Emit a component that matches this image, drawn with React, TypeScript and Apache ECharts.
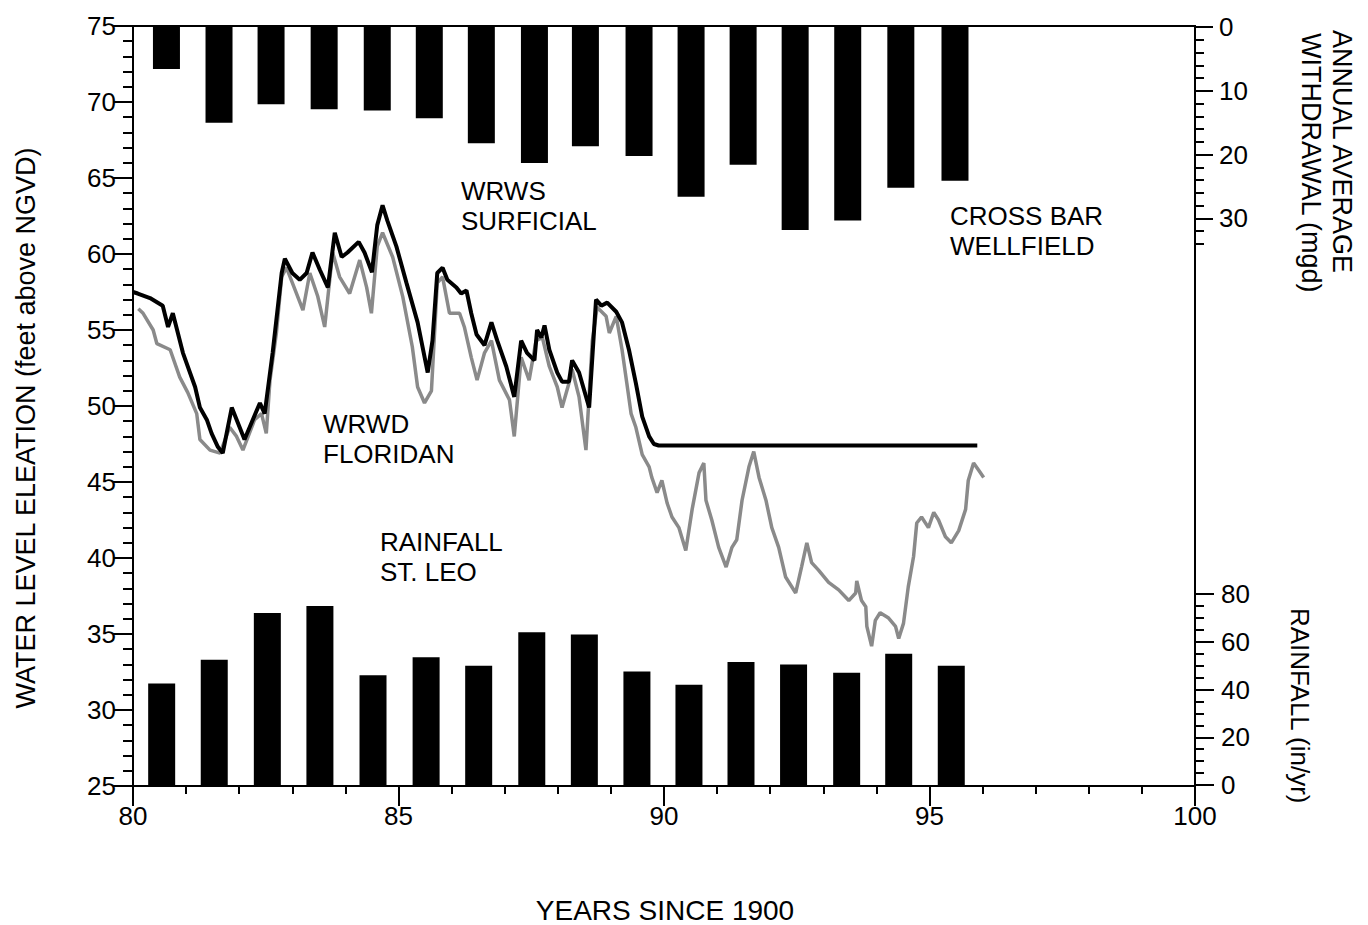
import React, { useEffect, useRef } from "react";
import * as echarts from "echarts";

// ---- DATA ----
const withdrawalYears = [80.63, 81.62, 82.6, 83.6, 84.6, 85.58, 86.56, 87.56, 88.52, 89.53, 90.51, 91.49, 92.47, 93.46, 94.46, 95.48];
const withdrawalMgd = [6.6, 15.0, 12.1, 12.9, 13.1, 14.3, 18.2, 21.3, 18.7, 20.2, 26.6, 21.6, 31.8, 30.3, 25.2, 24.1];

const rainfallYears = [80.54, 81.53, 82.53, 83.52, 84.52, 85.52, 86.51, 87.51, 88.5, 89.49, 90.47, 91.45, 92.44, 93.44, 94.42, 95.41];
const rainfallInches = [42.5, 52.5, 72, 75, 46, 53.5, 50, 64, 63, 47.5, 42, 51.5, 50.5, 47, 55, 50];

const surficialYears = [80.0, 80.09, 80.32, 80.56, 80.66, 80.75, 80.94, 81.17, 81.26, 81.39, 81.48, 81.6, 81.69, 81.78, 81.86, 82.1, 82.39, 82.48, 82.63, 82.8, 82.86, 83.0, 83.14, 83.27, 83.38, 83.52, 83.67, 83.8, 83.93, 84.04, 84.25, 84.36, 84.5, 84.6, 84.7, 84.79, 84.96, 85.15, 85.36, 85.55, 85.64, 85.73, 85.83, 85.92, 86.09, 86.18, 86.28, 86.37, 86.47, 86.62, 86.75, 86.86, 87.03, 87.18, 87.31, 87.42, 87.56, 87.61, 87.69, 87.75, 87.84, 87.99, 88.08, 88.21, 88.27, 88.4, 88.59, 88.72, 88.82, 88.93, 89.1, 89.21, 89.34, 89.47, 89.59, 89.72, 89.81, 89.9, 95.9];
const surficialLevels = [57.5, 57.4, 57.1, 56.6, 55.2, 56.1, 53.5, 51.25, 49.9, 49.1, 48.2, 47.3, 46.9, 48.5, 49.9, 47.8, 50.2, 49.5, 53.5, 58.75, 59.7, 58.75, 58.3, 58.75, 60.1, 58.95, 57.8, 61.4, 59.8, 60.1, 60.8, 60.1, 58.8, 61.9, 63.2, 62.2, 60.5, 58.1, 55.5, 52.2, 54.3, 58.75, 59.1, 58.3, 57.8, 57.4, 57.6, 56.1, 54.7, 54.0, 55.5, 54.3, 52.6, 50.6, 54.3, 53.5, 53.0, 55.0, 54.5, 55.3, 53.7, 52.2, 51.6, 51.6, 53.0, 52.2, 49.9, 57.0, 56.6, 56.8, 56.2, 55.5, 53.7, 51.5, 49.3, 48.0, 47.5, 47.4, 47.4];

const floridanYears = [80.1, 80.19, 80.38, 80.45, 80.7, 80.88, 81.03, 81.2, 81.26, 81.45, 81.64, 81.82, 81.95, 82.07, 82.29, 82.42, 82.51, 82.58, 82.7, 82.8, 82.89, 83.08, 83.2, 83.33, 83.48, 83.61, 83.76, 83.89, 84.08, 84.27, 84.4, 84.49, 84.6, 84.7, 84.89, 85.08, 85.26, 85.36, 85.49, 85.62, 85.73, 85.83, 85.96, 86.15, 86.24, 86.37, 86.48, 86.62, 86.75, 86.9, 87.09, 87.18, 87.31, 87.46, 87.59, 87.71, 87.84, 87.99, 88.08, 88.21, 88.27, 88.4, 88.53, 88.65, 88.74, 88.91, 88.97, 89.1, 89.21, 89.3, 89.38, 89.47, 89.59, 89.72, 89.77, 89.87, 89.96, 90.06, 90.15, 90.28, 90.41, 90.53, 90.66, 90.75, 90.79, 90.9, 91.03, 91.17, 91.28, 91.37, 91.47, 91.6, 91.69, 91.79, 91.92, 92.03, 92.16, 92.29, 92.48, 92.59, 92.69, 92.78, 92.91, 93.1, 93.29, 93.48, 93.61, 93.63, 93.72, 93.8, 93.82, 93.91, 93.98, 94.07, 94.23, 94.36, 94.42, 94.51, 94.6, 94.7, 94.76, 94.85, 94.98, 95.08, 95.17, 95.3, 95.41, 95.55, 95.68, 95.73, 95.83, 95.92, 96.02];
const floridanLevels = [56.4, 56.1, 55.0, 54.1, 53.7, 51.9, 50.9, 49.5, 47.8, 47.1, 46.9, 48.6, 48.0, 47.1, 49.1, 49.5, 48.2, 51.7, 54.8, 58.5, 59.1, 57.4, 56.3, 58.75, 57.2, 55.2, 60.1, 58.5, 57.4, 59.6, 57.8, 56.1, 60.5, 61.4, 59.8, 57.2, 53.9, 51.25, 50.2, 51.0, 58.1, 58.5, 56.1, 56.1, 55.2, 53.2, 51.7, 53.5, 54.3, 51.7, 50.4, 48.0, 53.2, 51.7, 54.3, 54.5, 52.6, 51.25, 49.9, 51.5, 52.4, 50.6, 47.1, 54.3, 56.5, 55.9, 54.8, 55.9, 53.7, 51.5, 49.5, 48.6, 46.8, 46.0, 45.3, 44.3, 45.1, 43.6, 42.7, 42.0, 40.5, 43.2, 45.6, 46.25, 43.8, 42.5, 40.7, 39.4, 40.7, 41.2, 43.8, 46.0, 47.0, 45.3, 43.8, 42.0, 40.7, 38.75, 37.7, 39.4, 41.0, 39.7, 39.2, 38.4, 37.9, 37.2, 37.7, 38.5, 37.2, 36.8, 35.5, 34.2, 35.9, 36.4, 36.05, 35.5, 34.7, 35.7, 38.1, 40.1, 42.3, 42.7, 42.0, 43.0, 42.5, 41.4, 41.0, 41.8, 43.2, 45.1, 46.25, 45.8, 45.3];

const withdrawalMajorTicks = [0, 10, 20, 30];
const withdrawalMinorTicks = [0, 2, 4, 6, 8, 10, 12, 14, 16, 18, 20, 22, 24, 26, 28, 30, 32, 34];

const annotations = [
  { text: "WRWS\nSURFICIAL", x: 461, y: 176 },
  { text: "CROSS BAR\nWELLFIELD", x: 950, y: 201 },
  { text: "WRWD\nFLORIDAN", x: 323, y: 409 },
  { text: "RAINFALL\nST. LEO", x: 380, y: 527 },
];

const FONT = "'Liberation Sans', Arial, Helvetica, sans-serif";

export default function App() {
  const ref = useRef<HTMLDivElement>(null);

  useEffect(() => {
    document.body.style.margin = "0";
    const chart = echarts.init(ref.current!, null, { renderer: "svg" });

    const black = "#000";
    const tickStyle = { color: black, width: 2 };
    const labelBase = { color: black, fontSize: 26, fontFamily: FONT };

    const pairs = (xs: number[], ys: number[]) => xs.map((x, i) => [x, ys[i]]);

    const textStyle = (text: string, size: number, extra: any = {}) => ({
      text,
      fill: black,
      font: `${size}px ${FONT}`,
      fontSize: size,
      fontFamily: FONT,
      ...extra,
    });

    const option: any = {
      animation: false,
      backgroundColor: "#fff",
      grid: [
        { left: 133, top: 26, width: 1062, height: 760, show: true, borderColor: black, borderWidth: 2, backgroundColor: "transparent" },
        { left: 133, top: 27, width: 1062, height: 217 },
        { left: 133, top: 594, width: 1062, height: 191 },
      ],
      xAxis: [
        {
          gridIndex: 0,
          type: "value",
          min: 80,
          max: 100,
          interval: 5,
          axisLine: { show: true, onZero: false, lineStyle: tickStyle },
          axisTick: { show: true, length: 20, lineStyle: tickStyle },
          minorTick: { show: true, splitNumber: 5, length: 8, lineStyle: tickStyle },
          axisLabel: { ...labelBase, margin: 17 },
          splitLine: { show: false },
        },
        { gridIndex: 1, type: "value", min: 80, max: 100, show: false },
        { gridIndex: 2, type: "value", min: 80, max: 100, show: false },
      ],
      yAxis: [
        {
          gridIndex: 0,
          type: "value",
          position: "left",
          min: 25,
          max: 75,
          interval: 5,
          axisLine: { show: true, onZero: false, lineStyle: tickStyle },
          axisTick: { show: true, length: 20, lineStyle: tickStyle },
          minorTick: { show: true, splitNumber: 5, length: 10, lineStyle: tickStyle },
          axisLabel: { ...labelBase, margin: 17 },
          splitLine: { show: false },
        },
        {
          gridIndex: 1,
          type: "value",
          position: "right",
          inverse: true,
          min: 0,
          max: 34,
          axisLine: { show: false },
          axisTick: { show: true, customValues: withdrawalMinorTicks, length: 9, lineStyle: tickStyle },
          axisLabel: { show: false },
          splitLine: { show: false },
        },
        {
          gridIndex: 1,
          type: "value",
          position: "right",
          inverse: true,
          min: 0,
          max: 34,
          axisLine: { show: false },
          axisTick: { show: true, customValues: withdrawalMajorTicks, length: 18, lineStyle: tickStyle },
          axisLabel: { ...labelBase, customValues: withdrawalMajorTicks, margin: 24, hideOverlap: false },
          splitLine: { show: false },
        },
        {
          gridIndex: 2,
          type: "value",
          position: "right",
          min: 0,
          max: 80,
          interval: 20,
          axisLine: { show: false },
          axisTick: { show: true, length: 19, lineStyle: tickStyle },
          minorTick: { show: true, splitNumber: 4, length: 9, lineStyle: tickStyle },
          axisLabel: { ...labelBase, margin: 26 },
          splitLine: { show: false },
        },
      ],
      series: [
        {
          name: "WRWD FLORIDAN",
          type: "line",
          xAxisIndex: 0,
          yAxisIndex: 0,
          data: pairs(floridanYears, floridanLevels),
          showSymbol: false,
          symbol: "none",
          lineStyle: { color: "#8a8a8a", width: 3.5 },
          z: 2,
        },
        {
          name: "WRWS SURFICIAL",
          type: "line",
          xAxisIndex: 0,
          yAxisIndex: 0,
          data: pairs(surficialYears, surficialLevels),
          showSymbol: false,
          symbol: "none",
          lineStyle: { color: black, width: 4 },
          z: 3,
        },
        {
          name: "CROSS BAR WELLFIELD",
          type: "bar",
          xAxisIndex: 1,
          yAxisIndex: 1,
          data: pairs(withdrawalYears, withdrawalMgd),
          barWidth: 27,
          itemStyle: { color: black },
        },
        {
          name: "RAINFALL ST. LEO",
          type: "bar",
          xAxisIndex: 2,
          yAxisIndex: 3,
          data: pairs(rainfallYears, rainfallInches),
          barWidth: 27,
          itemStyle: { color: black },
        },
      ],
      graphic: [
        {
          type: "text",
          x: 26,
          y: 428,
          rotation: Math.PI / 2,
          style: textStyle("WATER LEVEL ELEATION (feet above NGVD)", 27, { align: "center", verticalAlign: "middle", textAlign: "center", textVerticalAlign: "middle" }),
        },
        {
          type: "text",
          x: 665,
          y: 910,
          style: textStyle("YEARS SINCE 1900", 28, { align: "center", verticalAlign: "middle", textAlign: "center", textVerticalAlign: "middle" }),
        },
        {
          type: "text",
          x: 1342,
          y: 30,
          rotation: -Math.PI / 2,
          style: textStyle("ANNUAL AVERAGE", 27, { align: "left", verticalAlign: "middle", textAlign: "left", textVerticalAlign: "middle" }),
        },
        {
          type: "text",
          x: 1311,
          y: 33,
          rotation: -Math.PI / 2,
          style: textStyle("WITHDRAWAL (mgd)", 27, { align: "left", verticalAlign: "middle", textAlign: "left", textVerticalAlign: "middle" }),
        },
        {
          type: "text",
          x: 1300,
          y: 608,
          rotation: -Math.PI / 2,
          style: textStyle("RAINFALL (in/yr)", 26, { align: "left", verticalAlign: "middle", textAlign: "left", textVerticalAlign: "middle" }),
        },
        ...annotations.map((a) => ({
          type: "text",
          x: a.x,
          y: a.y,
          style: textStyle(a.text, 26, { lineHeight: 30, align: "left", verticalAlign: "top", textAlign: "left", textVerticalAlign: "top" }),
        })),
      ],
    };

    chart.setOption(option);
    return () => chart.dispose();
  }, []);

  return <div ref={ref} style={{ width: 1368, height: 925 }} />;
}
